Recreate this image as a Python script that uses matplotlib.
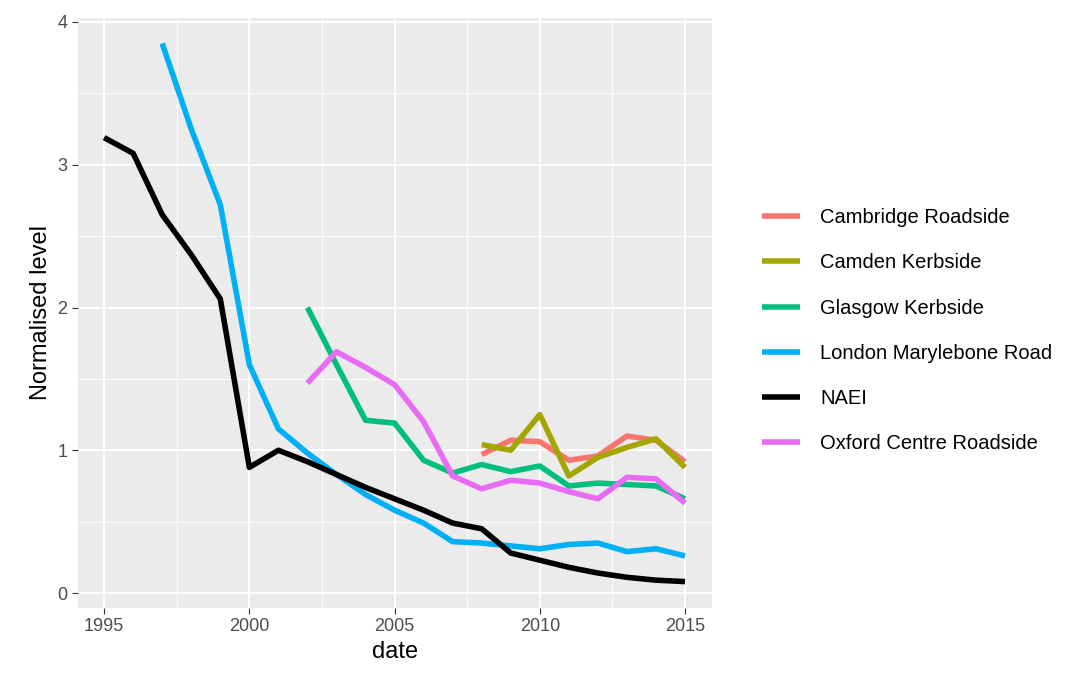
import matplotlib.pyplot as plt
import numpy as np

plt.rcParams["font.family"] = ["Liberation Sans", "DejaVu Sans"]

cambridge_years = list(range(2008, 2016))
cambridge = [0.97, 1.07, 1.06, 0.93, 0.96, 1.10, 1.07, 0.92]
camden_years = list(range(2008, 2016))
camden = [1.04, 1.00, 1.25, 0.82, 0.95, 1.02, 1.08, 0.88]
glasgow_years = list(range(2002, 2016))
glasgow = [2.0, 1.6, 1.21, 1.19, 0.93, 0.84, 0.9, 0.85, 0.89, 0.75, 0.77, 0.76, 0.75, 0.66]
london_years = list(range(1997, 2016))
london = [3.85, 3.25, 2.72, 1.6, 1.15, 0.98, 0.83, 0.69, 0.58, 0.49, 0.36, 0.35,
          0.33, 0.31, 0.34, 0.35, 0.29, 0.31, 0.26]
naei_years = list(range(1995, 2016))
naei = [3.19, 3.08, 2.65, 2.37, 2.06, 0.88, 1.0, 0.92, 0.83, 0.74, 0.66, 0.58,
        0.49, 0.45, 0.28, 0.23, 0.18, 0.14, 0.11, 0.09, 0.08]
oxford_years = list(range(2002, 2016))
oxford = [1.47, 1.69, 1.58, 1.46, 1.2, 0.82, 0.73, 0.79, 0.77, 0.71, 0.66, 0.81, 0.80, 0.63]

series = [
    ("Cambridge Roadside", cambridge_years, cambridge, "#F8766D"),
    ("Camden Kerbside", camden_years, camden, "#A3A500"),
    ("Glasgow Kerbside", glasgow_years, glasgow, "#00BF7D"),
    ("London Marylebone Road", london_years, london, "#00B0F6"),
    ("NAEI", naei_years, naei, "#000000"),
    ("Oxford Centre Roadside", oxford_years, oxford, "#E76BF3"),
]

fig = plt.figure(figsize=(10.92, 6.73), dpi=100)
ax = fig.add_axes([78 / 1092, 1 - 608 / 673, (712 - 78) / 1092, (608 - 18) / 673])
ax.set_facecolor("#EBEBEB")
for s in ax.spines.values():
    s.set_visible(False)

ax.set_xticks([1995, 2000, 2005, 2010, 2015])
ax.set_xticks(np.arange(1997.5, 2015, 5), minor=True)
ax.set_yticks([0, 1, 2, 3, 4])
ax.set_yticks([0.5, 1.5, 2.5, 3.5], minor=True)
ax.grid(which="major", color="white", lw=1.3)
ax.grid(which="minor", color="white", lw=0.6)
ax.set_axisbelow(True)
ax.tick_params(which="minor", length=0)
ax.tick_params(which="major", length=4, color="#333333", labelsize=13, labelcolor="#4D4D4D")

for name, yrs, vals, col in series:
    ax.plot(yrs, vals, color=col, lw=4, label=name, solid_capstyle="butt")

ax.set_xlim(1994.1, 2015.93)
ax.set_ylim(-0.105, 4.028)
ax.set_xlabel("date", fontsize=17)
ax.set_ylabel("Normalised level", fontsize=17)

leg = ax.legend(loc="center left", bbox_to_anchor=(1.05, 0.47), frameon=False,
                fontsize=14.5, handlelength=1.9, labelspacing=1.3, handletextpad=1.0)
fig.savefig("out.png", dpi=100)
